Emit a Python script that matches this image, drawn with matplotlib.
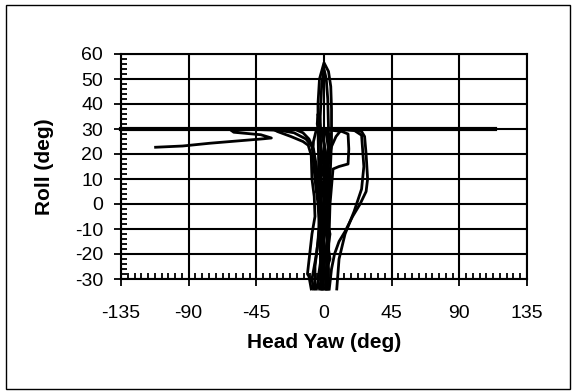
import matplotlib
matplotlib.use("Agg")
import matplotlib.pyplot as plt
from matplotlib.patches import Rectangle
from matplotlib.ticker import MultipleLocator

plt.rcParams['font.family'] = ['Liberation Sans', 'DejaVu Sans']
plt.rcParams['axes.unicode_minus'] = False

# 30 deg reference line
ref_yaw = [-135, 114]
ref_roll = [30, 30]

# head traces (yaw, roll)
yaw_a = [-112, -94, -76, -58, -40, -35, -42, -60, -62, -45, -30, -20, -12, -8, -6, -5]
roll_a = [22.7, 23.2, 24.3, 25.2, 26.1, 26.4, 27.7, 28.7, 29.6, 29.8, 29.5, 28.5, 26, 23, 15, 5]

yaw_b = [-2, -3, -4, -4, -3, 0, 3, 4.5, 5, 5, 4, 3, 2, 1]
roll_b = [-34, 0, 30, 40, 50, 56.5, 53, 47, 38, 25, 10, -5, -20, -34]

yaw_b2 = [-1, -2, -2.5, -1.5, 0, 1.5, 2.5, 3, 2.5, 1.5]
roll_b2 = [-34, 10, 35, 48, 54, 50, 42, 30, 10, -34]

yaw_c = [-3, -4.5, -4, -3, -2]
roll_c = [28, 32, 36, 33, 28]

yaw_d = [-34, -31, -22, -14, -10.5, -8.5, -8, -6.5, -6, -8, -9.5, -11, -10, -8.5]
roll_d = [30, 29, 27, 25, 23.5, 19.5, 10, 3, -5, -12, -20, -28, -29, -34]

yaw_e = [-18, -14, -10, -7, -5, -4, -3, -4, -6, -6]
roll_e = [29.5, 28.5, 26, 22, 15, 5, -5, -15, -25, -34]

yaw_f = [-2, 5, 12, 16, 16.5, 16, 10, 6, 4, 3, 2.5]
roll_f = [30, 29.5, 29, 28, 22, 16, 15, 14, 0, -20, -34]

yaw_g = [-1, 15, 25, 27, 28, 29, 28, 24, 19, 14, 10, 7, 5, 3.5]
roll_g = [30, 29.8, 29, 27, 20, 10, 5, 0, -5, -11, -15, -20, -26, -34]

yaw_h = [0, 20, 25, 26.5, 25, 20, 14, 10, 8.5]
roll_h = [30, 29.5, 27.5, 15, 6, -3, -12, -22, -34]

yaw_i = [-5, -7, -7.5, -6, -4, -3, -5, -8, -7]
roll_i = [30, 25, 20, 10, 0, -10, -20, -30, -34]

yaw_j = [-1, 1, -2, 2, -1, 1, -2, 0]
roll_j = [30, 20, 10, 0, -10, -20, -28, -34]

yaw_k = [1, 3, 0, 3, 1, 3, 2, 1.5]
roll_k = [30, 22, 12, 2, -8, -18, -28, -34]

yaw_l = [-3, -1, 2, 0, -3, -2, -4, -3]
roll_l = [29, 18, 8, -2, -12, -22, -30, -34]

yaw_n = [2, 4, 1, -1, 2, 4, 0, -1.5]
roll_n = [30, 20, 8, -3, -14, -22, -29, -34]

yaw_o = [-2, 0, 3, 1, -2, 0, 3, 3]
roll_o = [30, 24, 14, 4, -6, -16, -26, -34]

yaw_p = [4, 2, -1, 1, 4, 2, -1, -4, -5]
roll_p = [28, 16, 6, -4, -12, -20, -26, -31, -34]

yaw_m = [12, 8, 5, 3, 2]
roll_m = [30, 27, 23, 18, 10]

traces = [(yaw_a, roll_a), (yaw_b, roll_b), (yaw_b2, roll_b2), (yaw_c, roll_c),
          (yaw_d, roll_d), (yaw_e, roll_e), (yaw_f, roll_f), (yaw_g, roll_g),
          (yaw_h, roll_h), (yaw_i, roll_i), (yaw_j, roll_j), (yaw_k, roll_k),
          (yaw_l, roll_l), (yaw_n, roll_n), (yaw_o, roll_o), (yaw_p, roll_p),
          (yaw_m, roll_m)]

x_ticks = [-135, -90, -45, 0, 45, 90, 135]
y_ticks = [-30, -20, -10, 0, 10, 20, 30, 40, 50, 60]

fig = plt.figure(figsize=(5.75, 3.92), dpi=100)
fig.patches.append(Rectangle((6 / 575, 3 / 392), 564 / 575, 384 / 392,
                             transform=fig.transFigure, fill=False,
                             edgecolor='black', linewidth=1))

ax = fig.add_axes([121 / 575, 1 - 279 / 392, 406 / 575, 225 / 392])
ax.set_xlim(-135, 135)
ax.set_ylim(-30, 60)

ax.grid(True, color='black', linewidth=1.5)
ax.set_axisbelow(True)

for yw, rl in traces:
    ax.plot(yw, rl, color='black', linewidth=2.0, clip_on=False)
ax.plot(ref_yaw, ref_roll, color='black', linewidth=3.0, clip_on=False)

ax.set_xticks(x_ticks)
ax.set_yticks(y_ticks)
ax.xaxis.set_minor_locator(MultipleLocator(4.5))
ax.yaxis.set_minor_locator(MultipleLocator(2))
ax.tick_params(which='major', direction='out', length=5, width=1.3,
               labelsize=14, colors='black')
ax.tick_params(axis='x', which='major', pad=14)
ax.tick_params(axis='y', which='major', pad=8)
ax.tick_params(which='minor', direction='in', length=4, width=1.3)
for s in ax.spines.values():
    s.set_linewidth(1.5)

fig.text(324 / 575, 1 - 343 / 392, "Head Yaw (deg)", ha='center', va='center',
         fontsize=15, fontweight='bold')
fig.text(45 / 575, 1 - 167 / 392, "Roll (deg)", ha='center', va='center',
         rotation=90, fontsize=15, fontweight='bold')

fig.savefig("out.png", dpi=100)
